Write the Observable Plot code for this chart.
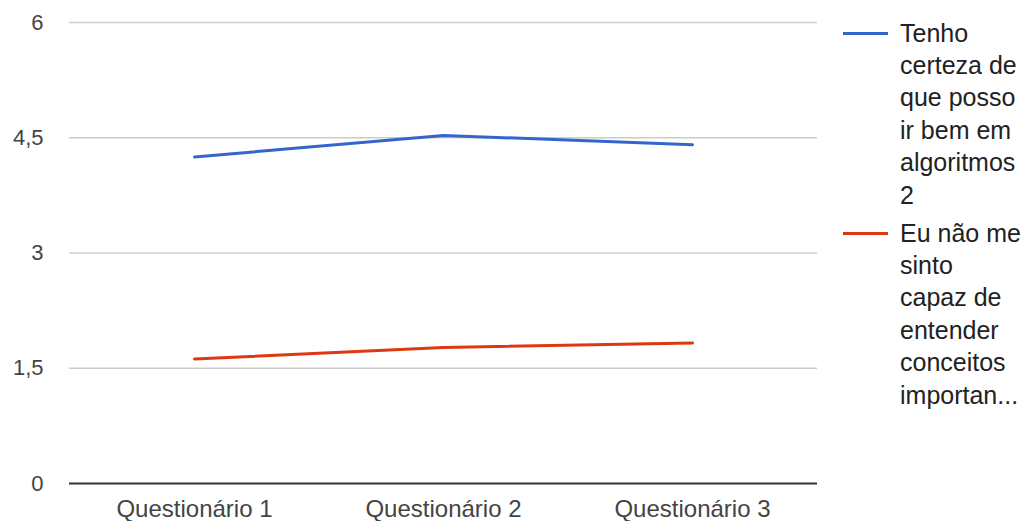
<!DOCTYPE html>
<html>
<head>
<meta charset="utf-8">
<script src="https://cdn.jsdelivr.net/npm/d3@7"></script>
<script src="https://cdn.jsdelivr.net/npm/@observablehq/plot@0.6"></script>
<style>
  html, body { margin: 0; padding: 0; background: #fff; }
  #wrap { position: relative; width: 1022px; height: 521px; }
  .leg { position: absolute; left: 843px; font-family: "Liberation Sans", Arial, sans-serif; font-size: 25px; color: #222; line-height: 32.4px; }
  .leg .sw { position: absolute; left: 0; width: 45px; height: 3px; }
  .leg .tx { position: absolute; left: 57px; white-space: nowrap; }
  svg g[aria-label="x-axis tick label"] text { font-size: 24px; }
</style>
</head>
<body>
<div id="wrap"></div>
<script>
const categories = ["Questionário 1", "Questionário 2", "Questionário 3"];
const seriesNames = [
  "Tenho certeza de que posso ir bem em algoritmos 2",
  "Eu não me sinto capaz de entender conceitos importan..."
];
const legendLines = [
  ["Tenho", "certeza de", "que posso", "ir bem em", "algoritmos", "2"],
  ["Eu não me", "sinto", "capaz de", "entender", "conceitos", "importan..."]
];
const seriesColors = ["#3366cc", "#dc3912"];
const valuesSeries1 = [4.25, 4.53, 4.41];
const valuesSeries2 = [1.62, 1.77, 1.83];
const yTicks = [0, 1.5, 3, 4.5, 6];

const data = [];
categories.forEach((c, i) => {
  data.push({q: c, v: valuesSeries1[i], s: seriesNames[0]});
  data.push({q: c, v: valuesSeries2[i], s: seriesNames[1]});
});

const fmt = d => String(d).replace(".", ",");

const chart = Plot.plot({
  width: 1022,
  height: 521,
  marginLeft: 69,
  marginRight: 205,
  marginTop: 22,
  marginBottom: 38,
  style: { fontFamily: "'Liberation Sans', Arial, sans-serif", fontSize: "22px", color: "#444", background: "#fff" },
  x: { type: "point", domain: categories, padding: 0.5, label: null, tickSize: 0, tickPadding: 16 },
  y: { domain: [0, 6], ticks: yTicks, tickFormat: fmt, label: null, tickSize: 0, tickPadding: 26 },
  color: { domain: seriesNames, range: seriesColors },
  marks: [
    Plot.ruleY(yTicks.filter(d => d !== 0), { stroke: "#cccccc", strokeWidth: 1.5 }),
    Plot.line(data, { x: "q", y: "v", stroke: "s", z: "s", strokeWidth: 3 }),
    Plot.ruleY([0], { stroke: "#333", strokeWidth: 2 })
  ]
});

const wrap = document.getElementById("wrap");
wrap.appendChild(chart);

const legendTops = [33, 233];
seriesNames.forEach((name, i) => {
  const d = document.createElement("div");
  d.className = "leg";
  d.style.top = (legendTops[i] - 1.5) + "px";
  const sw = document.createElement("div");
  sw.className = "sw";
  sw.style.background = seriesColors[i];
  d.appendChild(sw);
  const tx = document.createElement("div");
  tx.className = "tx";
  tx.style.top = "-15px";
  tx.innerHTML = legendLines[i].join("<br>");
  d.appendChild(tx);
  wrap.appendChild(d);
});
</script>
</body>
</html>
